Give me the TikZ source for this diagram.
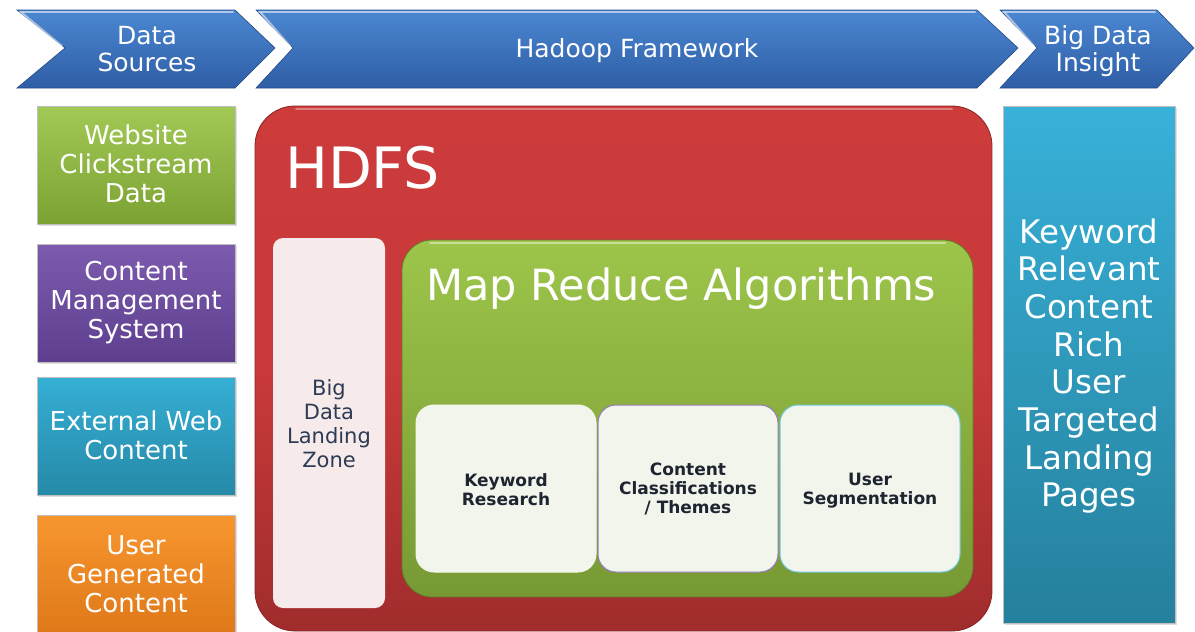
\documentclass[tikz,border=0pt]{standalone}
\usepackage{fontspec}
\setmainfont{DejaVu Sans}
\usetikzlibrary{shadows}
\definecolor{chevT}{HTML}{4B87D1}
\definecolor{chevB}{HTML}{2E5EA6}
\definecolor{grnT}{HTML}{A2C855}
\definecolor{grnB}{HTML}{7CA233}
\definecolor{purT}{HTML}{7C5BAE}
\definecolor{purB}{HTML}{5E3F8E}
\definecolor{tealT}{HTML}{35AFD4}
\definecolor{tealB}{HTML}{2689A8}
\definecolor{orgT}{HTML}{F7962F}
\definecolor{orgB}{HTML}{DE7718}
\definecolor{redT}{HTML}{CD3B3B}
\definecolor{redB}{HTML}{A02C2C}
\definecolor{landF}{HTML}{F6EAEA}
\definecolor{landT}{HTML}{2D3B55}
\definecolor{mapT}{HTML}{9DC54A}
\definecolor{mapB}{HTML}{779934}
\definecolor{innerF}{HTML}{F2F5EB}
\definecolor{innerT}{HTML}{1E2430}
\definecolor{insT}{HTML}{38B1D9}
\definecolor{insB}{HTML}{25809C}
\tikzset{
  chevron/.style={top color=chevT,bottom color=chevB,draw=chevB!80!black,line width=0.6pt},
  hilite/.style={draw=white,opacity=0.55,line width=2pt,line cap=round},
  srcbox/.style={draw=black!25,line width=0.6pt,drop shadow={opacity=0.25,shadow xshift=2pt,shadow yshift=-2pt}},
  whitetxt/.style={text=white,align=center,inner sep=0pt,font=\fontsize{26}{29}\selectfont},
  innerbox/.style={fill=innerF,rounded corners=18pt,line width=1pt},
  innertxt/.style={text=innerT,align=center,inner sep=0pt,font=\bfseries\fontsize{17}{19}\selectfont},
}
\begin{document}
\begin{tikzpicture}[x=1pt,y=-1pt]
\useasboundingbox (0,0) rectangle (1195,632);
% ---- chevrons
\draw[chevron] (17,10) -- (235,10) -- (275,48) -- (235,88) -- (17,88) -- (65,48) -- cycle;
\draw[hilite] (20,12) -- (233,12);
\draw[hilite] (22,13) -- (62,46);
\node[whitetxt,font=\fontsize{25}{27}\selectfont] (ds) at (147,49) {Data\\Sources};

\draw[chevron] (256,10) -- (977,10) -- (1018,48) -- (977,88) -- (256,88) -- (293,48) -- cycle;
\draw[hilite] (259,12) -- (975,12);
\draw[hilite] (261,13) -- (290,46);
\node[whitetxt,font=\fontsize{25}{27}\selectfont] (hf) at (637,51) {Hadoop Framework};

\draw[chevron] (1000,10) -- (1157,10) -- (1194,48) -- (1157,88) -- (1000,88) -- (1037,48) -- cycle;
\draw[hilite] (1003,12) -- (1155,12);
\draw[hilite] (1005,13) -- (1034,46);
\node[whitetxt,font=\fontsize{25}{27}\selectfont] (bdi) at (1098,51) {Big Data\\Insight};

% ---- source boxes
\path[srcbox,top color=grnT,bottom color=grnB] (37,106) rectangle (235,224);
\node[whitetxt] (web) at (136,164) {Website\\Clickstream\\Data};
\path[srcbox,top color=purT,bottom color=purB] (37,244) rectangle (235,362);
\node[whitetxt] (cms) at (136,303) {Content\\Management\\System};
\path[srcbox,top color=tealT,bottom color=tealB] (37,377) rectangle (235,495);
\node[whitetxt] (ext) at (136,435) {External Web\\Content};
\path[srcbox,top color=orgT,bottom color=orgB] (37,515) rectangle (235,640);
\node[whitetxt] (ugc) at (136,574) {User\\Generated\\Content};

% ---- HDFS
\path[top color=redT,bottom color=redB,middle color=redT!92!redB,draw=redB!85!black,line width=0.8pt,rounded corners=40pt] (255,106) rectangle (992,631);
\draw[draw=white,opacity=0.35,line width=2pt,line cap=round] (296,109) -- (952,109);
\node[text=white,anchor=west,inner sep=0pt,font=\fontsize{57}{60}\selectfont] (hdfs) at (285,168) {HDFS};

% landing zone
\path[fill=landF,rounded corners=10pt] (273,238) rectangle (385,608);
\node[text=landT,align=center,inner sep=0pt,font=\fontsize{21}{24}\selectfont] (lz) at (329,424) {Big\\Data\\Landing\\Zone};

% map reduce
\path[top color=mapT,bottom color=mapB,draw=mapB!80!black,line width=0.8pt,rounded corners=30pt] (402,240) rectangle (973,597);
\draw[draw=white,opacity=0.45,line width=2pt,line cap=round] (430,243) -- (945,243);
\node[text=white,anchor=west,inner sep=0pt,font=\fontsize{43}{46}\selectfont] (mr) at (426,289) {Map Reduce Algorithms};

\path[innerbox,draw=innerF] (416,405) rectangle (596,572);
\node[innertxt] (kr) at (506,490) {Keyword\\Research};
\path[innerbox,draw=purT!80] (598,405) rectangle (778,572);
\node[innertxt] (cc) at (688,489) {Content\\Classifications\\/ Themes};
\path[innerbox,draw=tealT!70] (780,405) rectangle (960,572);
\node[innertxt] (us) at (870,491) {User\\Segmentation};

% ---- insight box
\path[srcbox,top color=insT,bottom color=insB] (1003,106) rectangle (1175,623);
\node[text=white,align=center,inner sep=0pt,font=\fontsize{32.5}{37.7}\selectfont] (kw) at (1089,366) {Keyword\\Relevant\\Content\\Rich\\User\\Targeted\\Landing\\Pages};
\end{tikzpicture}
\end{document}
